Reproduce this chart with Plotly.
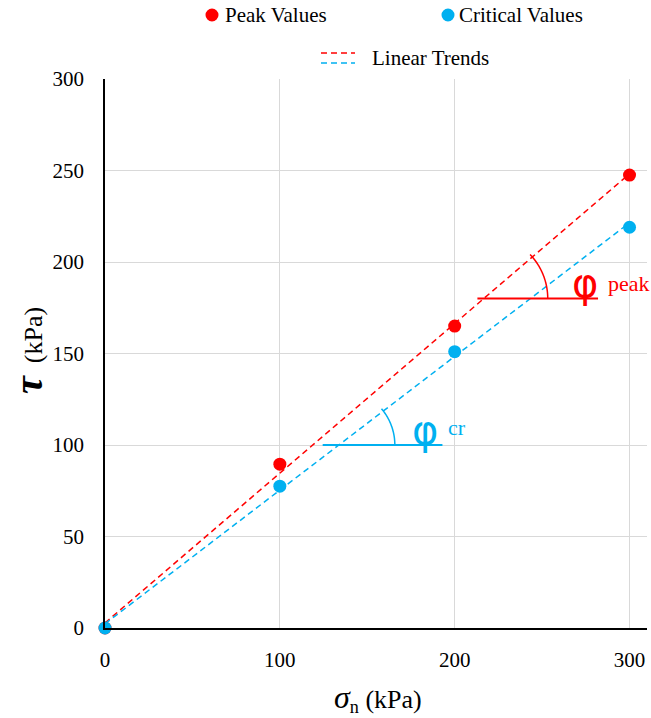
import numpy as np
import plotly.graph_objects as go

# ---- data ----
sigma_n = [0, 100, 200, 300]
tau_peak = [0, 89.5, 165, 247.5]
tau_critical = [0, 77.5, 151, 219]
x_ticks = [0, 100, 200, 300]
y_ticks = [0, 50, 100, 150, 200, 250, 300]

RED = "#FF0000"
BLUE = "#00B0F0"
FONT = "Liberation Serif, Times New Roman, serif"

W, H = 651, 718
# plot area in window pixels: left 105, right 647, top 79, bottom 628
L, T = 105, 79
R = W - 647
B = H - 628
XR = [0, 310]
YR = [0, 300]
pw, ph = W - L - R, H - T - B
sx = pw / (XR[1] - XR[0])
sy = ph / (YR[1] - YR[0])

def px(xp):  # window pixel -> paper
    return (xp - L) / pw

def py(yp):
    return (H - B - yp) / ph

# linear trends
kp, bp = np.polyfit(sigma_n, tau_peak, 1)
kc, bc = np.polyfit(sigma_n, tau_critical, 1)
xt = np.array([0, 300])

fig = go.Figure()
fig.add_trace(go.Scatter(x=xt, y=kp * xt + bp, mode="lines",
                         line=dict(color=RED, width=1.5, dash="6px,4px"), showlegend=False))
fig.add_trace(go.Scatter(x=xt, y=kc * xt + bc, mode="lines",
                         line=dict(color=BLUE, width=1.5, dash="6px,4px"), showlegend=False))
fig.add_trace(go.Scatter(x=sigma_n, y=tau_peak, mode="markers", cliponaxis=False,
                         marker=dict(color=RED, size=13), showlegend=False))
fig.add_trace(go.Scatter(x=sigma_n, y=tau_critical, mode="markers", cliponaxis=False,
                         marker=dict(color=BLUE, size=13), showlegend=False))

shapes = []
annotations = []

def angle_marker(k, b, y_level, x0, x1, radius_px, color, sym_px, sub_px, sub, sym_py, sub_py, symsize):
    shapes.append(dict(type="line", xref="x", yref="y", x0=x0, x1=x1, y0=y_level, y1=y_level,
                       line=dict(color=color, width=2)))
    xi = (y_level - b) / k
    ang = np.degrees(np.arctan(k * sy / sx))
    th = np.radians(np.linspace(0, ang + 3, 40))
    xs = xi + radius_px * np.cos(th) / sx
    ys = y_level + radius_px * np.sin(th) / sy
    path = "M " + " L ".join(f"{a:.3f},{c:.3f}" for a, c in zip(xs, ys))
    shapes.append(dict(type="path", xref="x", yref="y", path=path,
                       line=dict(color=color, width=1.5)))
    annotations.append(dict(xref="paper", yref="paper", x=px(sym_px), y=py(sym_py), text="φ",
                            showarrow=False, xanchor="center", yanchor="middle",
                            font=dict(family="DejaVu Sans", size=symsize, color=color)))
    annotations.append(dict(xref="paper", yref="paper", x=px(sub_px), y=py(sub_py), text=sub,
                            showarrow=False, xanchor="left", yanchor="middle",
                            font=dict(family=FONT, size=22, color=color)))

angle_marker(kp, bp, 180, 213, 282, 64, RED, 585, 606, "peak", 283, 283, 40)
angle_marker(kc, bc, 100, 124.5, 193, 56, BLUE, 425, 446, "cr", 430, 427, 40)

# ---- manual legend ----
for cx, col in [(212, RED), (448, BLUE)]:
    shapes.append(dict(type="circle", xref="paper", yref="paper", xsizemode="pixel", ysizemode="pixel",
                       xanchor=px(cx), yanchor=py(15), x0=-6.5, x1=6.5, y0=-6.5, y1=6.5,
                       fillcolor=col, line=dict(width=0)))
annotations.append(dict(xref="paper", yref="paper", x=px(223), y=py(15), text="Peak Values",
                        showarrow=False, xanchor="left", yanchor="middle",
                        font=dict(family=FONT, size=21, color="#000")))
annotations.append(dict(xref="paper", yref="paper", x=px(457), y=py(15), text="Critical Values",
                        showarrow=False, xanchor="left", yanchor="middle",
                        font=dict(family=FONT, size=21, color="#000")))
for yy, col in [(53, RED), (63, BLUE)]:
    shapes.append(dict(type="line", xref="paper", yref="paper", x0=px(321), x1=px(355),
                       y0=py(yy), y1=py(yy), line=dict(color=col, width=1.5, dash="6px,4px")))
annotations.append(dict(xref="paper", yref="paper", x=px(370), y=py(58), text="Linear Trends",
                        showarrow=False, xanchor="left", yanchor="middle",
                        font=dict(family=FONT, size=21, color="#000")))

# axis titles
annotations.append(dict(xref="paper", yref="paper", x=px(28), y=py(351),
                        text="<span style='font-size:40px'><b><i>τ</i></b></span>  (kPa)",
                        textangle=-90, showarrow=False, xanchor="center", yanchor="middle",
                        font=dict(family=FONT, size=26, color="#000")))
annotations.append(dict(xref="paper", yref="paper", x=px(378), y=py(698),
                        text="<span style='font-size:32px'><i>σ</i></span><sub>n</sub> (kPa)",
                        showarrow=False, xanchor="center", yanchor="middle",
                        font=dict(family=FONT, size=26, color="#000")))

fig.update_layout(
    width=W, height=H,
    margin=dict(l=L, r=R, t=T, b=B),
    paper_bgcolor="white", plot_bgcolor="white",
    shapes=shapes, annotations=annotations,
    font=dict(family=FONT, size=21, color="#000"),
    showlegend=False,
)
fig.update_xaxes(range=XR, tickvals=x_ticks, ticktext=[str(v) for v in x_ticks],
                 showgrid=True, gridcolor="#D9D9D9", gridwidth=1,
                 showline=True, linecolor="#000", linewidth=1.5, zeroline=False,
                 ticks="", ticklabelstandoff=12, tickfont=dict(family=FONT, size=21))
fig.update_yaxes(range=YR, tickvals=y_ticks, ticktext=[str(v) for v in y_ticks],
                 showgrid=True, gridcolor="#D9D9D9", gridwidth=1,
                 showline=True, linecolor="#000", linewidth=1.5, zeroline=False,
                 ticks="", ticklabelstandoff=15, tickfont=dict(family=FONT, size=21))

fig.write_html("out.html", config={"displayModeBar": False},
               post_script="document.body.style.margin='0';document.body.style.overflow='hidden';")
